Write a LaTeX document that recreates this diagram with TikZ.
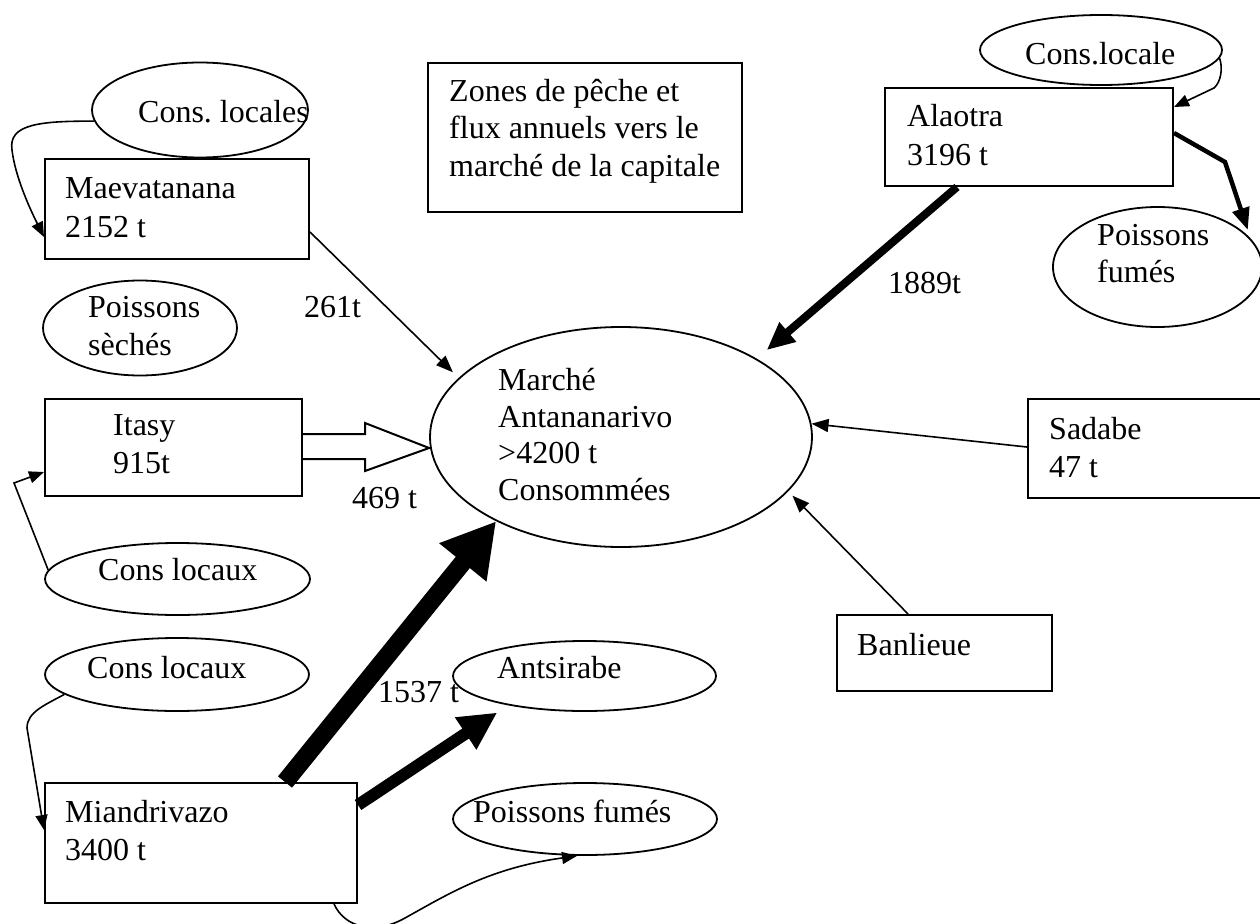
\documentclass[tikz,border=0pt]{standalone}
\usepackage{fontspec}
\setmainfont{Liberation Serif}
\usetikzlibrary{shapes.geometric,arrows.meta,calc}
\begin{document}
\frenchspacing
\begin{tikzpicture}[x=1pt,y=-1pt,
  box/.style={draw,line width=2pt,rectangle,inner sep=0pt},
  oval/.style={draw,line width=1.8pt,ellipse,inner sep=0pt},
  lbl/.style={anchor=base west,inner sep=0pt,font=\fontsize{32}{38}\selectfont},
  thin/.style={line width=1.6pt,-{Triangle[length=17pt,width=13pt]}},
  small/.style={line width=1.6pt,-{Triangle[length=15pt,width=12pt]}},
]
\useasboundingbox (0,0) rectangle (1260,923);
\clip (0,0) rectangle (1260,923);

% shapes
\node[oval,minimum width=216pt,minimum height=95pt] (consA) at (200,110) {};
\node[box,minimum width=264pt,minimum height=100pt] (maev) at (177,209) {};
\node[oval,minimum width=194pt,minimum height=95pt] (sech) at (140,328) {};
\node[box,minimum width=314pt,minimum height=149pt] (zones) at (585,137.5) {};
\node[box,minimum width=288pt,minimum height=98pt] (alao) at (1029,137) {};
\node[oval,minimum width=242pt,minimum height=70pt] (consB) at (1101,50) {};
\node[oval,minimum width=209pt,minimum height=120pt] (fumA) at (1157.5,267) {};
\node[oval,minimum width=382pt,minimum height=220pt] (mar) at (621,437) {};
\node[box,minimum width=262pt,minimum height=99pt] (sada) at (1159,448.5) {};
\node[box,minimum width=215pt,minimum height=76pt] (banl) at (944.5,653) {};
\node[box,minimum width=257pt,minimum height=97pt] (itasy) at (173.5,447.5) {};
\node[oval,minimum width=265pt,minimum height=72pt] (consC) at (177.5,579) {};
\node[oval,minimum width=264pt,minimum height=73pt] (consD) at (177,674.5) {};
\node[oval,minimum width=263pt,minimum height=70pt] (antsi) at (584.5,676) {};
\node[oval,minimum width=264pt,minimum height=72pt] (fumB) at (585,819) {};
\node[box,minimum width=312pt,minimum height=120pt] (miand) at (201,843) {};

% texts
\node[lbl] (tconsA) at (138,123) {Cons.\ locales};
\node[lbl] (tmaev1) at (65,198) {Maevatanana};
\node[lbl] (tmaev2) at (65,237) {2152 t};
\node[lbl] (tsech1) at (88,317) {Poissons};
\node[lbl] (tsech2) at (88,355) {sèchés};
\node[lbl] (t261) at (304,317) {261t};
\node[lbl] (tzon1) at (449,102) {Zones de pêche et};
\node[lbl] (tzon2) at (449,139) {flux annuels vers le};
\node[lbl] (tzon3) at (449,176) {marché de la capitale};
\node[lbl] (talao1) at (907,127) {Alaotra};
\node[lbl] (talao2) at (907,165) {3196 t};
\node[lbl] (tconsB) at (1025,65) {Cons.locale};
\node[lbl] (tfumA1) at (1097,245) {Poissons};
\node[lbl] (tfumA2) at (1097,282) {fumés};
\node[lbl] (t1889) at (888,293) {1889t};
\node[lbl] (tmar1) at (498,390) {Marché};
\node[lbl] (tmar2) at (498,427) {Antananarivo};
\node[lbl] (tmar3) at (498,463) {>4200 t};
\node[lbl] (tmar4) at (498,500) {Consommées};
\node[lbl] (tsada1) at (1049,439) {Sadabe};
\node[lbl] (tsada2) at (1049,477) {47 t};
\node[lbl] (tbanl) at (857,655) {Banlieue};
\node[lbl] (titasy1) at (113,435) {Itasy};
\node[lbl] (titasy2) at (113,473) {915t};
\node[lbl] (t469) at (352,508) {469 t};
\node[lbl] (tconsC) at (98,580) {Cons locaux};
\node[lbl] (tconsD) at (87,678) {Cons locaux};
\node[lbl] (tantsi) at (497,678) {Antsirabe};
\node[lbl] (t1537) at (378,702) {1537 t};
\node[lbl] (tfumB) at (473,822) {Poissons fumés};
\node[lbl] (tmiand1) at (65,822) {Miandrivazo};
\node[lbl] (tmiand2) at (65,860) {3400 t};

% connectors
\draw[small] (consA.186) .. controls (40,121) and (8,124) .. (12,150)
  .. controls (15,175) and (28,205) .. (maev.west |- 0,237);
\draw[thin,shorten >=8pt] (maev.east |- 0,232) -- (mar.160);
\draw[line width=8pt,-{Triangle[length=28pt,width=24pt]},shorten >=13pt]
  (alao.south -| 957,0) -- (mar.30.5);
\draw[small] (consB.-4) .. controls (1223,68) and (1221,82) .. (1214,88)
  -- (alao.east |- 0,107);
\draw[line width=4.5pt,line join=miter,-{Triangle[length=22pt,width=17pt]},shorten >=9pt]
  (alao.east |- 0,133) -- (1225,162) -- (fumA.17.8);
\draw[thin] (sada.west |- 0,447) -- (mar.4);
\draw[thin,shorten >=6pt] (banl.north -| 908,0) -- (mar.-18);
\draw[line width=2pt,fill=white,line join=miter]
  (itasy.east |- 0,434) -- (365,434) -- (365,423) -- (mar.west |- 0,448)
  -- (365,471) -- (365,459) -- (itasy.east |- 0,459);
\draw[small] (consC.176) -- (14,483) -- (itasy.west |- 0,472);
\draw[small] (consD.190) .. controls (45,705) and (27,712) .. (27,728)
  -- (miand.west |- 0,830);
\draw[line width=18pt,-{Triangle[length=53pt,width=57pt]}]
  (miand.north -| 285,0) -- (mar.214);
\draw[line width=12pt,-{Triangle[length=38pt,width=36pt]},shorten >=13pt]
  (miand.east |- 0,805) -- (antsi.201.4);
\draw[small] (miand.south -| 334,0) .. controls (345,928) and (375,935) .. (405,918)
  .. controls (450,893) and (490,868) .. (fumB.south -| 577,0);
\end{tikzpicture}
\end{document}
